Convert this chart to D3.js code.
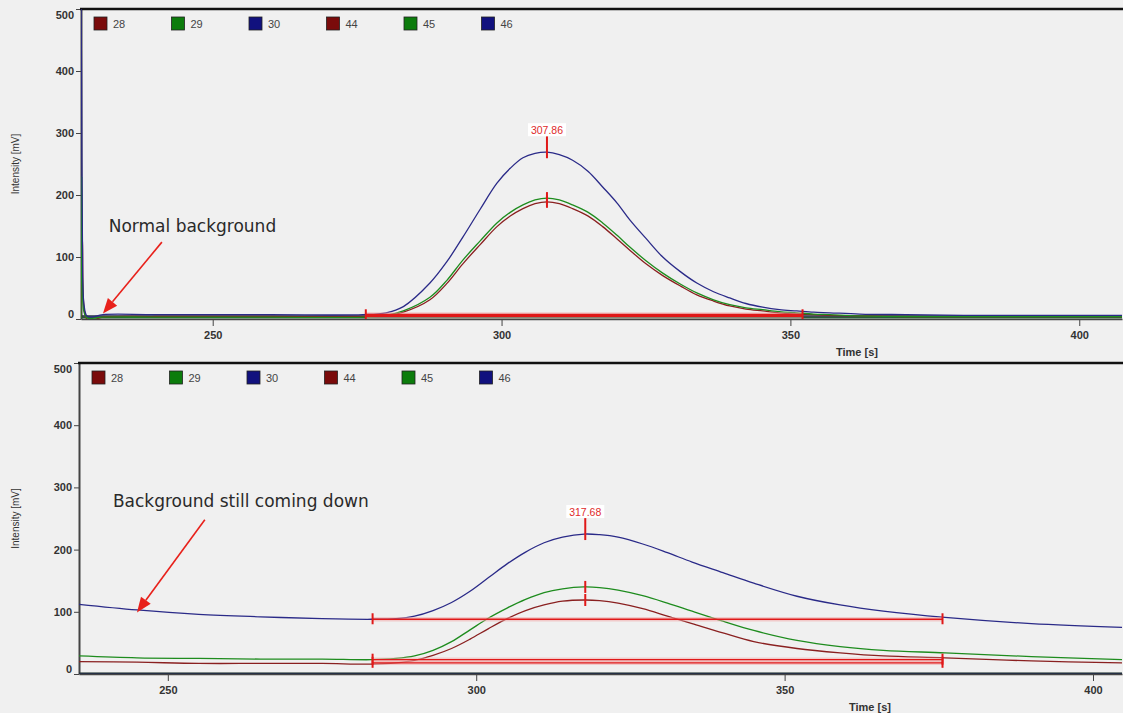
<!DOCTYPE html>
<html>
<head>
<meta charset="utf-8">
<script src="https://cdn.jsdelivr.net/npm/d3@7"></script>
<style>
  body { margin: 0; background: #f0f0f0; }
  svg { display: block; }
</style>
</head>
<body>
<script>
// chromatogram panels, values

var legendKeys = ["28", "29", "30", "44", "45", "46"];
var yTicks = [0, 100, 200, 300, 400, 500];
var xTicks = [250, 300, 350, 400];

// top run
var topTime = [227.2, 227.3, 227.45, 227.7, 228.2, 229, 231, 240, 260, 276, 280, 283, 287.6, 290.5, 293.3, 296.3,
  299.2, 301.5, 303.7, 305.8, 307.86, 310, 312.3, 315, 317.5, 320, 322.2, 325, 327.9, 331, 333.8, 336.7,
  339.5, 342.3, 345.2, 348.1, 351.1, 354, 356.8, 362, 370, 380, 390, 400, 407.4];
var top28 = [2, 60, 130, 20, 0, -2, 3, 4, 4, 4, 5, 11, 31, 57, 89, 120,
  149, 166, 178, 186, 189, 186, 178, 166, 149, 129, 111, 89, 70, 53, 39, 29,
  21, 16, 13, 10, 8, 7, 6, 5, 4, 4, 4, 4, 4];
var top29 = [2, 229, 60, 12, 2, 1, 3, 3, 3, 3, 6, 13, 35, 62, 95, 126,
  155, 172, 184, 192, 195, 192, 184, 172, 155, 135, 116, 94, 74, 56, 42, 31,
  23, 18, 15, 12, 10, 8, 7, 5, 4, 4, 4, 4, 4];
var top30 = [520, 380, 120, 25, 5, 3, 7, 7, 7, 7, 10, 20, 58, 92, 132, 177,
  219, 243, 260, 267, 269, 265, 256, 238, 213, 187, 160, 130, 100, 76, 58, 44,
  34, 25, 19, 15, 13, 11, 10, 8, 7, 6, 6, 6, 6];
var top44 = topTime.map(function () { return 3; });
var top45 = topTime.map(function () { return 2; });
var top46 = topTime.map(function () { return 5; });
var topPeakTime = 307.86;
var topPeakHeights = [189, 195, 269];   // 28, 29, 30
var topBaseline = [276.5, 352.1, 6];    // start, end, level

// bottom run
var bottomTime = [235.6, 245, 255, 265, 275, 283, 287, 290, 293, 296, 299, 302, 305, 308, 311, 314, 317.5,
  320, 323, 327, 331, 335, 340, 345, 352, 359, 366, 376, 390, 404.7];
var bottom28 = [20, 19, 17, 17, 17, 16, 18, 22, 30, 41, 56, 73, 89, 102, 111, 117, 119,
  118, 114, 105, 93, 81, 66, 52, 41, 34, 29, 26, 21, 18];
var bottom29 = [29, 26, 25, 24, 24, 23, 25, 29, 38, 52, 71, 90, 106, 120, 131, 137, 140,
  139, 135, 126, 114, 101, 85, 70, 54, 44, 38, 34, 28, 23];
var bottom30 = [112, 103, 96, 92, 89, 88, 89, 93, 102, 115, 133, 155, 177, 196, 211, 220, 225,
  224, 220, 209, 195, 180, 163, 146, 125, 111, 101, 91, 81, 75];
var bottom44 = bottomTime.map(function () { return 1; });
var bottom45 = bottomTime.map(function () { return 1; });
var bottom46 = bottomTime.map(function () { return 1; });
var bottomPeakTime = 317.68;
var bottomPeakHeights = [119, 140, 225];
var bottomBaselines = [[283.2, 375.6, 18], [283.2, 375.6, 23], [283.2, 375.6, 88]];

var colors = { "28": "#7a0b0b", "29": "#0c7c0c", "30": "#11117e", "44": "#7a0b0b", "45": "#0c7c0c", "46": "#11117e" };
var lineColors = { "28": "#8a2020", "29": "#1e8c1e", "30": "#2a2a88", "44": "#3a2a2a", "45": "#2a5a3a", "46": "#253045" };

var svg = d3.select("body").append("svg")
  .attr("width", 1123)
  .attr("height", 713)
  .style("background", "#f0f0f0");

var defs = svg.append("defs");

function drawPanel(o) {
  var x = d3.scaleLinear().domain(o.xDomain).range([o.left, o.right]);
  var y = d3.scaleLinear().domain([0, 500]).range([o.bottom, o.top]);
  var g = svg.append("g");

  defs.append("clipPath").attr("id", o.id)
    .append("rect")
    .attr("x", o.left).attr("y", o.top)
    .attr("width", o.right - o.left).attr("height", o.bottom - o.top);

  // axes
  var ya = g.append("g")
    .attr("transform", "translate(" + o.left + ",0)")
    .call(d3.axisLeft(y).tickValues(yTicks).tickSize(5).tickPadding(2).tickSizeOuter(0));
  ya.select(".domain").attr("stroke", "#444").attr("stroke-width", 2);
  ya.selectAll(".tick line").attr("stroke", "#444");
  ya.selectAll(".tick text")
    .attr("font-family", "Liberation Sans, Arial, sans-serif")
    .attr("font-weight", "bold").attr("font-size", 11).attr("fill", "#333")
    .attr("dy", function (d) { return d === 0 ? "-0.1em" : d === 500 ? "0.85em" : "0.32em"; });

  var xa = g.append("g")
    .attr("transform", "translate(0," + o.bottom + ")")
    .call(d3.axisBottom(x).tickValues(xTicks).tickSize(7).tickPadding(5).tickSizeOuter(0));
  xa.select(".domain").attr("stroke", "#444").attr("stroke-width", 1.5);
  xa.selectAll(".tick line").attr("stroke", "#444");
  xa.selectAll(".tick text")
    .attr("font-family", "Liberation Sans, Arial, sans-serif")
    .attr("font-weight", "bold").attr("font-size", 11).attr("fill", "#333");

  g.append("text")
    .attr("x", o.timeX).attr("y", o.bottom + 37)
    .attr("text-anchor", "middle")
    .attr("font-family", "Liberation Sans, Arial, sans-serif")
    .attr("font-weight", "bold").attr("font-size", 11).attr("fill", "#333")
    .text("Time [s]");

  g.append("text")
    .attr("transform", "translate(19," + ((o.top + o.bottom) / 2) + ") rotate(-90)")
    .attr("text-anchor", "middle")
    .attr("font-family", "Liberation Sans, Arial, sans-serif")
    .attr("font-size", 10).attr("fill", "#333")
    .text("Intensity [mV]");

  // top border
  g.append("line")
    .attr("x1", o.left - 1).attr("x2", o.right + 1)
    .attr("y1", o.top).attr("y2", o.top)
    .attr("stroke", "#111").attr("stroke-width", 2.5);

  // curves
  var line = d3.line()
    .x(function (d) { return x(d[0]); })
    .y(function (d) { return y(d[1]); })
    .curve(d3.curveCatmullRom.alpha(0.5));

  var plot = g.append("g").attr("clip-path", "url(#" + o.id + ")");
  var order = ["44", "45", "46", "28", "29", "30"];
  order.forEach(function (k) {
    var vals = o.series[k];
    plot.append("path")
      .datum(o.time.map(function (t, i) { return [t, vals[i]]; }))
      .attr("fill", "none")
      .attr("stroke", lineColors[k])
      .attr("stroke-width", k === "44" || k === "45" || k === "46" ? 1.5 : 1.3)
      .attr("d", line);
  });

  // integration baselines
  o.baselines.forEach(function (b) {
    plot.append("line")
      .attr("x1", x(b[0])).attr("x2", x(b[1]))
      .attr("y1", y(b[2])).attr("y2", y(b[2]))
      .attr("stroke", "#f2a6a6").attr("stroke-width", o.baseWidth + 3).attr("opacity", 0.5);
    plot.append("line")
      .attr("x1", x(b[0])).attr("x2", x(b[1]))
      .attr("y1", y(b[2])).attr("y2", y(b[2]))
      .attr("stroke", "#e01818").attr("stroke-width", o.baseWidth);
    [b[0], b[1]].forEach(function (t) {
      plot.append("line")
        .attr("x1", x(t)).attr("x2", x(t))
        .attr("y1", y(b[2]) - 6).attr("y2", y(b[2]) + 5)
        .attr("stroke", "#e01818").attr("stroke-width", 2);
    });
  });

  // peak marks
  o.peaks.forEach(function (h, i) {
    var last = i === o.peaks.length - 1;
    plot.append("line")
      .attr("x1", x(o.peakTime)).attr("x2", x(o.peakTime))
      .attr("y1", last ? y(h) - 16 : y(h) - 6).attr("y2", y(h) + 6)
      .attr("stroke", "#e01818").attr("stroke-width", 2);
  });
  var lx = x(o.peakTime), ly = y(o.peakHeights) - 22;
  g.append("rect")
    .attr("x", lx - 19).attr("y", ly - 7)
    .attr("width", 38).attr("height", 13)
    .attr("fill", "#fff");
  g.append("text")
    .attr("x", lx).attr("y", ly + 4)
    .attr("text-anchor", "middle")
    .attr("font-family", "Liberation Sans, Arial, sans-serif")
    .attr("font-size", 10.5).attr("fill", "#e02a2a")
    .text(o.peakTime.toFixed(2));

  // legend
  var leg = g.selectAll(".leg").data(legendKeys).enter().append("g")
    .attr("transform", function (d, i) { return "translate(" + (o.left + 13 + i * 77.5) + "," + (o.top + 8) + ")"; });
  leg.append("rect")
    .attr("width", 13).attr("height", 13)
    .attr("fill", function (d) { return colors[d]; })
    .attr("stroke", "#222").attr("stroke-width", 0.8);
  leg.append("text")
    .attr("x", 19).attr("y", 11)
    .attr("font-family", "Liberation Sans, Arial, sans-serif")
    .attr("font-size", 11).attr("fill", "#444")
    .text(function (d) { return d; });

  // annotation
  var a = o.note;
  g.append("text")
    .attr("x", x(a.text[0])).attr("y", y(a.text[1]))
    .attr("font-family", "DejaVu Sans, sans-serif")
    .attr("font-size", 17).attr("fill", "#2a2a2a")
    .text(a.label);
  var x1 = x(a.from[0]), y1 = y(a.from[1]), x2 = x(a.to[0]), y2 = y(a.to[1]);
  var ang = Math.atan2(y2 - y1, x2 - x1), len = 15, wid = 6;
  var bx = x2 - len * Math.cos(ang), by = y2 - len * Math.sin(ang);
  g.append("line")
    .attr("x1", x1).attr("y1", y1).attr("x2", bx).attr("y2", by)
    .attr("stroke", "#e8211b").attr("stroke-width", 1.6);
  g.append("path")
    .attr("d", "M" + x2 + "," + y2 +
      "L" + (bx + wid * Math.sin(ang)) + "," + (by - wid * Math.cos(ang)) +
      "L" + (bx - wid * Math.sin(ang)) + "," + (by + wid * Math.cos(ang)) + "Z")
    .attr("fill", "#e8211b");
}

drawPanel({
  id: "clipTop", left: 81, right: 1122, top: 9, bottom: 319,
  xDomain: [227.2, 407.4], timeX: 857,
  time: topTime,
  series: { "28": top28, "29": top29, "30": top30, "44": top44, "45": top45, "46": top46 },
  baselines: [topBaseline], baseWidth: 3.2,
  peakTime: topPeakTime, peaks: topPeakHeights, peakHeights: topPeakHeights[2],
  note: { label: "Normal background", text: [232.0, 140], from: [241.2, 124], to: [231.0, 9] }
});

drawPanel({
  id: "clipBottom", left: 79, right: 1122, top: 363, bottom: 674,
  xDomain: [235.6, 404.7], timeX: 870,
  time: bottomTime,
  series: { "28": bottom28, "29": bottom29, "30": bottom30, "44": bottom44, "45": bottom45, "46": bottom46 },
  baselines: bottomBaselines, baseWidth: 1.3,
  peakTime: bottomPeakTime, peaks: bottomPeakHeights, peakHeights: bottomPeakHeights[2],
  note: { label: "Background still coming down", text: [241.1, 269], from: [256.0, 248], to: [245.0, 99] }
});
</script>
</body>
</html>
